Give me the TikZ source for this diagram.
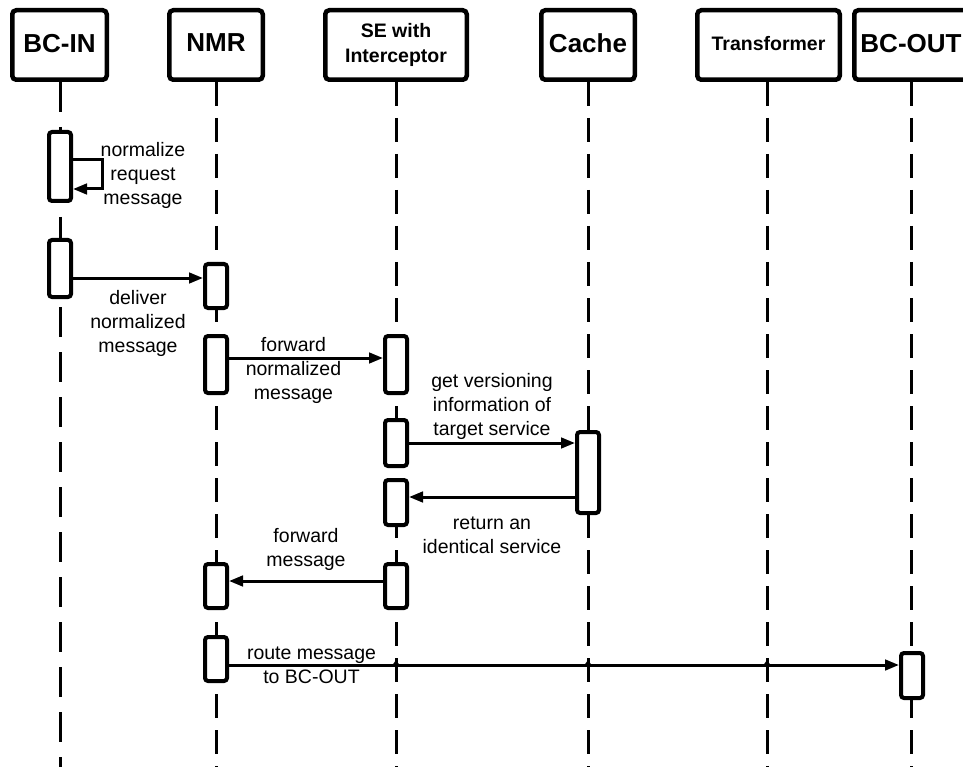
\documentclass[tikz,border=0pt]{standalone}
\usepackage{fontspec}
\setmainfont{Liberation Sans}
\usetikzlibrary{arrows.meta}
\begin{document}
\begin{tikzpicture}[x=1pt,y=-1pt,
  head/.style={draw, line width=4.5pt, rounded corners=4pt, fill=white,
    minimum height=69.5pt, inner sep=0pt},
  bigname/.style={font=\bfseries\fontsize{26}{30}\selectfont, text depth=4pt},
  smallname/.style={font=\bfseries\fontsize{19.5}{25}\selectfont, align=center},
  life/.style={line width=3pt, dash pattern=on 24pt off 12pt},
  lifewide/.style={line width=3pt, dash pattern=on 30pt off 15pt},
  act/.style={draw, line width=4pt, rounded corners=3pt, fill=white,
    minimum width=22pt, inner sep=0pt},
  msg/.style={line width=3pt, -{Triangle[length=14pt,width=10.5pt]}},
  lbl/.style={font=\fontsize{19.5}{24}\selectfont, align=center, inner sep=0pt},
  jump/.style={fill=black}
]
\useasboundingbox (0,0) rectangle (963,767);

% participant heads
\node[head, bigname, minimum width=94.5pt] (bcin) at (59.5,45) {BC-IN};
\node[head, bigname, minimum width=93.5pt] (nmr) at (216,45) {NMR};
\node[head, smallname, minimum width=141.5pt] (se) at (396,45) {SE with\\Interceptor};
\node[head, bigname, minimum width=93.5pt] (cache) at (588,45) {Cache};
\node[head, smallname, text depth=4pt, minimum width=142.5pt] (trans) at (768.5,45) {Transformer};
\node[head, bigname, minimum width=113.5pt] (bcout) at (911,45) {BC-OUT};

% lifelines
\coordinate (bcinEnd) at (60,767);
\coordinate (nmrEnd) at (216,767);
\coordinate (seEnd) at (396,767);
\coordinate (cacheEnd) at (588,767);
\coordinate (transEnd) at (767,767);
\coordinate (bcoutEnd) at (911,767);
\draw[lifewide] (bcin.south -| bcinEnd) -- (bcinEnd);
\draw[life] (nmr.south) -- (nmrEnd);
\draw[life] (se.south) -- (seEnd);
\draw[life] (cache.south) -- (cacheEnd);
\draw[life] (trans.south -| transEnd) -- (transEnd);
\draw[life] (bcout.south) -- (bcoutEnd);

% activation bars
\node[act, minimum height=69pt] (bcin1) at (60,166.5) {};
\node[act, minimum height=57pt] (bcin2) at (60,268.5) {};
\node[act, minimum height=44pt] (nmr1) at (216,286) {};
\node[act, minimum height=57pt] (nmr2) at (216,364.5) {};
\node[act, minimum height=44pt] (nmr3) at (216,586) {};
\node[act, minimum height=44pt] (nmr4) at (216,659) {};
\node[act, minimum height=57pt] (se1) at (396,364.5) {};
\node[act, minimum height=46pt] (se2) at (396,443) {};
\node[act, minimum height=45pt] (se3) at (396,502.5) {};
\node[act, minimum height=44pt] (se4) at (396,586) {};
\node[act, minimum height=81pt] (cache1) at (588,472.5) {};
\node[act, minimum height=45pt] (bcout1) at (912,675.5) {};

% messages
\draw[msg] (bcin1.east |- 0,160) -- ++(29,0) -- ++(0,29) -- (bcin1.east |- 0,189);
\draw[msg] (bcin2.east |- 0,278) -- (nmr1.west |- 0,278);
\draw[msg] (nmr2.east |- 0,358) -- (se1.west |- 0,358);
\draw[msg] (se2.east |- 0,443) -- (cache1.west |- 0,443);
\draw[msg] (cache1.west |- 0,497) -- (se3.east |- 0,497);
\draw[msg] (se4.west |- 0,581) -- (nmr3.east |- 0,581);
\draw[msg] (nmr4.east |- 0,665) -- (bcout1.west |- 0,665);

% small humps where the last message crosses lifelines
\coordinate (xse) at (seEnd |- 0,665);
\coordinate (xcache) at (cacheEnd |- 0,665);
\coordinate (xtrans) at (transEnd |- 0,665);
\foreach \p in {xse,xcache,xtrans}
  \fill[jump, shift={(\p)}] (-3.5,0) -- (0,-5) -- (3.5,0) -- cycle;

% message labels
\node[lbl] (l1) at (143,175) {normalize\\request\\message};
\node[lbl] (l2) at (138,323) {deliver\\normalized\\message};
\node[lbl] (l3) at (293.5,370) {forward\\normalized\\message};
\node[lbl] (l4) at (492,406) {get versioning\\information of\\target service};
\node[lbl] (l5) at (492,535) {return an\\identical service};
\node[lbl] (l6) at (306,549) {forward\\message};
\node[lbl] (l7) at (311.5,665) {route message\\to BC-OUT};
\end{tikzpicture}
\end{document}
